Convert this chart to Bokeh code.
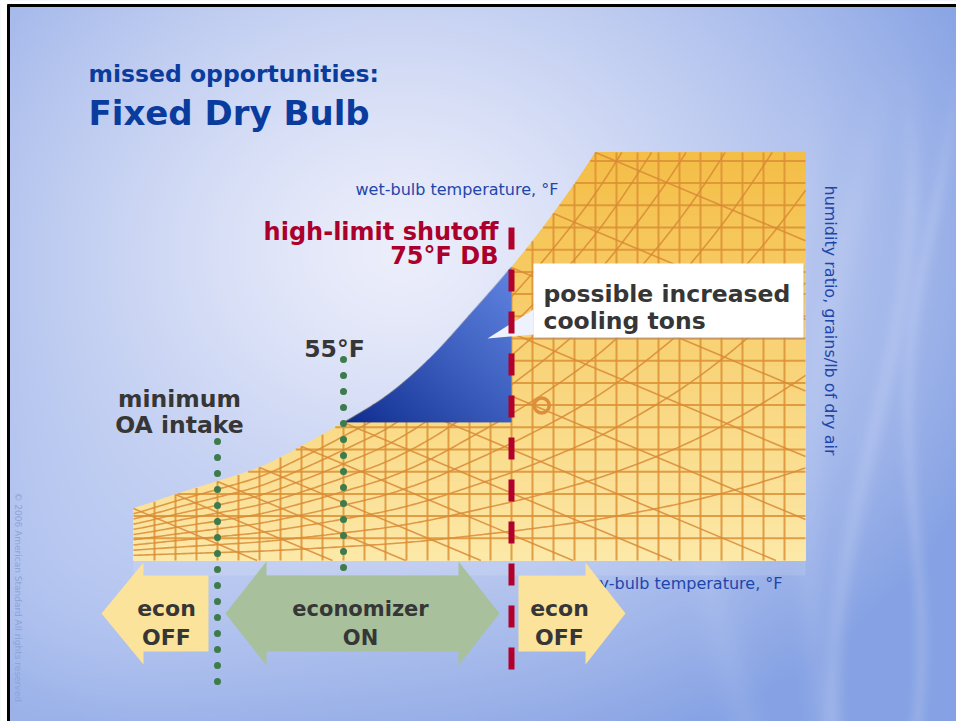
import numpy as np
from bokeh.plotting import figure
from bokeh.models import Range1d
from bokeh.core.properties import value
from bokeh.embed import file_html
from bokeh.resources import INLINE

# ---------------- data ----------------
# saturation curve: dry-bulb (°F) -> humidity ratio (grains/lb of dry air)
sat_db = [30, 35, 40, 45, 50, 55, 60, 65, 70, 75, 80, 85, 90, 95, 100, 105, 110]
sat_gr = [23.4, 29.7, 35.6, 41.9, 51.4, 62.2, 73.9, 90.0, 110.4, 132.0, 156.3, 183.8,
          217.5, 256.0, 302.0, 355.6, 417.0]
chart_db_range = [30, 110]          # dry-bulb extent of the chart
chart_gr_range = [0, 183.8]         # humidity-ratio extent of the chart
grid_db = [32.5, 35, 37.5, 40, 42.5, 45, 47.5, 50, 52.5, 55, 57.5, 60, 62.5, 65, 67.5, 70,
           72.5, 75, 77.5, 80, 82.5, 85, 87.5, 90, 92.5, 95, 97.5, 100, 102.5, 105, 107.5]
grid_gr = [10, 20, 30, 40, 50, 60, 70, 80, 90, 100, 110, 120, 130, 140, 150, 160, 170, 180]
rh_levels = [0.1, 0.2, 0.3, 0.4, 0.5, 0.6, 0.7, 0.8, 0.9]
wb_levels = [30, 35, 40, 45, 50, 55, 60, 65, 70, 75, 80, 85]
wb_slope = 1.59                     # grains per °F along a wet-bulb line
min_oa_db = 40
low_limit_db = 55
high_limit_db = 75
state_db = [78.6]
state_gr = [69.8]

title_small = "missed opportunities:"
title_big = "Fixed Dry Bulb"
wb_label = "wet-bulb temperature, °F"
db_label = "dry-bulb temperature, °F"
hr_label = "humidity ratio, grains/lb of dry air"
hl_label = ["high-limit shutoff", "75°F DB"]
low_label = "55°F"
oa_label = ["minimum", "OA intake"]
callout_label = ["possible increased", "cooling tons"]
econ_off = ["econ", "OFF"]
econ_on = ["economizer", "ON"]
copyright_label = "© 2006 American Standard  All rights reserved"

# ---------------- layout: page pixels <-> chart units ----------------
W, H = 956, 721
PX55, PX_PER_F, PY0, PX_PER_GR = 343.0, 8.4, 560.0, 2.22


def dx(px):
    return low_limit_db + (px - PX55) / PX_PER_F


def dy(py):
    return (PY0 - py) / PX_PER_GR


def DX(a):
    return [dx(v) for v in a]


def DY(a):
    return [dy(v) for v in a]


# smooth interpolation of the saturation curve (cubic Hermite in log space)
_sx = np.array(sat_db, float)
_sy = np.log(np.array(sat_gr, float))
_m = np.gradient(_sy, _sx)


def gsat(t):
    t = np.asarray(t, float)
    i = np.clip(np.searchsorted(_sx, t, side="right") - 1, 0, len(_sx) - 2)
    h = _sx[i + 1] - _sx[i]
    s = (t - _sx[i]) / h
    h00 = 2 * s**3 - 3 * s**2 + 1
    h10 = s**3 - 2 * s**2 + s
    h01 = -2 * s**3 + 3 * s**2
    h11 = s**3 - s**2
    return np.exp(h00 * _sy[i] + h10 * h * _m[i] + h01 * _sy[i + 1] + h11 * h * _m[i + 1])


_Tf = np.linspace(chart_db_range[0], chart_db_range[1], 4001)
_Gf = gsat(_Tf)


def tinv(g):
    return np.interp(g, _Gf, _Tf)


def pack(rgb, alpha):
    h, w = alpha.shape
    img = np.zeros((h, w), dtype=np.uint32)
    v = img.view(dtype=np.uint8).reshape((h, w, 4))
    v[..., 0] = np.clip(rgb[..., 0], 0, 255).astype(np.uint8)
    v[..., 1] = np.clip(rgb[..., 1], 0, 255).astype(np.uint8)
    v[..., 2] = np.clip(rgb[..., 2], 0, 255).astype(np.uint8)
    v[..., 3] = np.clip(alpha * 255, 0, 255).astype(np.uint8)
    return img


p = figure(width=W, height=H, x_range=Range1d(dx(0), dx(W)), y_range=Range1d(dy(H), dy(0)),
           output_backend="svg", toolbar_location=None, min_border=0,
           x_axis_location=None, y_axis_location=None, outline_line_color=None,
           background_fill_color="white", border_fill_color="white")
try:
    p.grid.visible = False
except Exception:
    pass

# ---------------- sky background ----------------
SW, SH = 478, 361
X, Y = np.meshgrid((np.arange(SW) + 0.5) * W / SW, (np.arange(SH) + 0.5) * H / SH)
d = np.sqrt(((X - 400) / 560) ** 2 + ((Y - 250) / 470) ** 2)
f = np.clip(d / 1.15, 0, 1) ** 1.3
light = np.array([236, 238, 251.0])
dark = np.array([134, 162, 228.0])
rgb = light * (1 - f[..., None]) + dark * f[..., None]
wash = 0.35 * np.exp(-(((X - 60) / 230) ** 2 + ((Y - 600) / 200) ** 2))
rgb = rgb + (np.array([222, 230, 252.0]) - rgb) * wash[..., None]
for xc0, amp, per, ph, wid, k in [(880, 25, 140, 0.0, 10, 0.13), (928, 15, 100, 1.0, 8, 0.12),
                                   (850, 30, 170, 2.0, 16, 0.08), (760, 40, 120, 0.5, 20, 0.07)]:
    xc = xc0 + amp * np.sin(Y / per + ph) - 0.06 * (Y - 300)
    s = k * np.exp(-((X - xc) / wid) ** 2) * np.clip((Y - 60) / 150, 0, 1)
    rgb = rgb + (255 - rgb) * s[..., None]
sky = pack(rgb[::-1], np.ones((SH, SW)))
p.image_rgba(image=[sky], x=dx(0), y=dy(H), dw=dx(W) - dx(0), dh=dy(0) - dy(H))

# page margin and black frame
p.quad(left=[dx(0)], right=[dx(7)], bottom=[dy(H)], top=[dy(0)], color="white")
p.quad(left=[dx(0)], right=[dx(W)], bottom=[dy(4)], top=[dy(0)], color="white")
p.line(x=[dx(7), dx(W)], y=[dy(5), dy(5)], line_color="black", line_width=3)
p.line(x=[dx(8), dx(8)], y=[dy(4), dy(H)], line_color="black", line_width=3)

# ---------------- psychrometric chart ----------------
top = chart_gr_range[1]
edges = np.linspace(chart_gr_range[0], top, 47)
c_bot = np.array([252, 232, 168.0])
c_top = np.array([244, 190, 70.0])
bxs, bys, bcols = [], [], []
for g0, g1 in zip(edges[:-1], edges[1:]):
    gb = np.linspace(g0, g1, 6)
    xl = np.maximum(chart_db_range[0], tinv(gb))
    bxs.append([chart_db_range[1], chart_db_range[1]] + list(xl[::-1]))
    bys.append([g0, g1] + list(gb[::-1]))
    fr = ((g0 + g1) / 2) / top
    c = c_bot * (1 - fr) + c_top * fr
    bcols.append("#%02x%02x%02x" % tuple(int(round(v)) for v in c))
p.patches(bxs, bys, fill_color=bcols, line_color=bcols, line_width=1)

# light strip right under the chart
p.quad(left=[chart_db_range[0]], right=[chart_db_range[1]], top=[chart_gr_range[0]],
       bottom=[dy(575)], fill_color="white", fill_alpha=0.12, line_color=None)

grid_col = "#dc9035"
vx = [[t, t] for t in grid_db]
vy = [[chart_gr_range[0], float(min(gsat(t), top))] for t in grid_db]
hx = [[float(max(chart_db_range[0], tinv(g))), chart_db_range[1]] for g in grid_gr]
hy = [[g, g] for g in grid_gr]
p.multi_line(vx + hx, vy + hy, line_color=grid_col, line_width=2, line_alpha=0.85)

rx, ry = [], []
for rh in rh_levels:
    t_end = float(min(chart_db_range[1], tinv(top / rh)))
    tt = np.linspace(chart_db_range[0], t_end, 200)
    rx.append(list(tt))
    ry.append(list(rh * gsat(tt)))
wx, wy = [], []
for twb in wb_levels:
    gs = float(gsat(twb))
    t_end = min(chart_db_range[1], twb + gs / wb_slope)
    wx.append([twb, t_end])
    wy.append([gs, gs - wb_slope * (t_end - twb)])
p.multi_line(rx + wx, ry + wy, line_color="#d98a35", line_width=1.6, line_alpha=0.85)

p.scatter(x=state_db, y=state_gr, size=15, marker="circle", fill_color=None,
          line_color="#dc8e3c", line_width=3.5)

# ---------------- "possible increased cooling tons" region ----------------
g55 = float(gsat(low_limit_db))
g75 = float(gsat(high_limit_db))
span = high_limit_db - low_limit_db
BW = int(round(span * PX_PER_F))
BH = int(round((g75 - g55) * PX_PER_GR))
TT, GG = np.meshgrid(low_limit_db + (np.arange(BW) + 0.5) * span / BW,
                     g55 + (np.arange(BH) + 0.5) * (g75 - g55) / BH)
alpha = np.clip((gsat(TT) - GG) * PX_PER_GR + 0.5, 0, 1)
u = (TT - low_limit_db) / span
v = (GG - g55) / (g75 - g55)
tb = np.clip(0.5 * u + 0.5 * v, 0, 1) ** 0.85
b_dark = np.array([12, 42, 140.0])
b_light = np.array([96, 132, 226.0])
brgb = b_dark * (1 - tb[..., None]) + b_light * tb[..., None]
p.image_rgba(image=[pack(brgb, alpha)], x=low_limit_db, y=g55, dw=span, dh=g75 - g55)

# callout
p.quad(left=[dx(534)], right=[dx(804)], top=[dy(264)], bottom=[dy(339)],
       fill_color="#8a93a8", fill_alpha=0.3, line_color=None)
p.patch(DX([487, 533, 533]), DY([338, 309, 334]), fill_color="#eef2fc", line_color=None)
p.quad(left=[dx(533)], right=[dx(803)], top=[dy(263)], bottom=[dy(337)],
       fill_color="white", line_color=None)

# high-limit line and dotted limits
p.line(x=[high_limit_db, high_limit_db], y=[dy(227), dy(670)], line_color="#b1002b",
       line_width=6, line_dash="22 20", line_cap="butt")
dot_col = "#3e7b4c"
p.scatter(x=[low_limit_db] * 14, y=DY([359 + 16 * k for k in range(14)]), size=7,
          fill_color=dot_col, line_color=None)
p.scatter(x=[min_oa_db] * 16, y=DY([441 + 16 * k for k in range(16)]), size=7,
          fill_color=dot_col, line_color=None)

# ---------------- texts ----------------
FONT = value("DejaVu Sans")


def label(px, py, txt, size, color, align="left", style="bold", angle=0.0):
    p.text(x=[dx(px)], y=[dy(py)], text=[txt], text_font=FONT, text_font_style=style,
           text_font_size=size, text_color=color, text_align=align,
           text_baseline="alphabetic", angle=angle)


label(88, 73, title_small, "23.5px", "#0a3c9e")
label(88, 112, title_big, "34px", "#0a3c9e")
label(355, 189, wb_label, "16px", "#1e46aa", style="normal")
label(782, 583, db_label, "16px", "#1e46aa", align="right", style="normal")
label(830, 185, hr_label, "16px", "#1e46aa", style="normal", angle=-np.pi / 2)
label(17, 492, copyright_label, "9px", "#8ea3d8", style="normal", angle=-np.pi / 2)
label(498, 231, hl_label[0], "24px", "#ab002c", align="right")
label(498, 255, hl_label[1], "24px", "#ab002c", align="right")
label(334, 348, low_label, "23.5px", "#363636", align="center")
label(179, 398, oa_label[0], "23.5px", "#363636", align="center")
label(179, 424, oa_label[1], "23.5px", "#363636", align="center")
label(543, 293, callout_label[0], "23.5px", "#363636")
label(543, 320, callout_label[1], "23.5px", "#363636")

# ---------------- economizer arrows ----------------
yel = "#fbe39b"
grn = "#a8c09b"
p.patch(DX([101, 143, 143, 208, 208, 143, 143]), DY([613, 562, 575, 575, 651, 651, 664]),
        fill_color=yel, line_color=None)
p.patch(DX([225, 266, 266, 458, 458, 499, 458, 458, 266, 266]),
        DY([613, 561, 575, 575, 561, 613, 665, 651, 651, 665]), fill_color=grn, line_color=None)
p.patch(DX([518, 585, 585, 625, 585, 585, 518]), DY([575, 575, 562, 613, 664, 651, 651]),
        fill_color=yel, line_color=None)
label(166, 608, econ_off[0], "22px", "#363636", align="center")
label(166, 637, econ_off[1], "22px", "#363636", align="center")
label(360, 608, econ_on[0], "21px", "#363636", align="center")
label(360, 637, econ_on[1], "21px", "#363636", align="center")
label(559, 608, econ_off[0], "22px", "#363636", align="center")
label(559, 637, econ_off[1], "22px", "#363636", align="center")

open("out.html", "w").write(file_html(p, INLINE))
